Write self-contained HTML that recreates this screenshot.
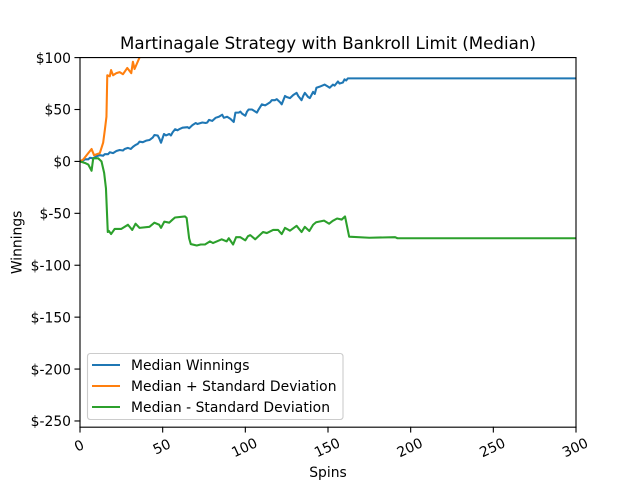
<!DOCTYPE html>
<html>
<head>
<meta charset="utf-8">
<style>
html,body{margin:0;padding:0;background:#fff}
svg{display:block}
text{font-family:"DejaVu Sans",sans-serif;font-size:13.89px;fill:#000}
</style>
</head>
<body>
<svg id="chart" width="640" height="480" viewBox="0 0 640 480" xmlns="http://www.w3.org/2000/svg">
<defs><clipPath id="plot-clip"><rect x="80" y="57.6" width="496" height="369.6"></rect></clipPath></defs>
<rect width="640" height="480" fill="#fff"></rect>
<text x="120" y="49" textLength="416" lengthAdjust="spacing" style="font-size:16.67px">Martinagale Strategy with Bankroll Limit (Median)</text>
<g id="series" clip-path="url(#plot-clip)"></g>
<g id="axes"></g>
<text x="328" y="477" text-anchor="middle">Spins</text>
<text x="0" y="0" text-anchor="middle" transform="translate(21.5,242.4) rotate(-90)">Winnings</text>
<g>
<rect x="87.5" y="353.5" width="255.5" height="66" rx="2.8" fill="#fff" fill-opacity="0.8" stroke="#cccccc" stroke-width="1.1"></rect>
<line x1="92" x2="120" y1="365" y2="365" stroke="#1f77b4" stroke-width="2.08"></line>
<text x="131" y="370">Median Winnings</text>
<line x1="92" x2="120" y1="386" y2="386" stroke="#ff7f0e" stroke-width="2.08"></line>
<text x="131" y="391" textLength="205.5" lengthAdjust="spacing">Median + Standard Deviation</text>
<line x1="92" x2="120" y1="407" y2="407" stroke="#2ca02c" stroke-width="2.08"></line>
<text x="131" y="412" textLength="199" lengthAdjust="spacing">Median - Standard Deviation</text>
</g>
</svg>
<script>
const xTicks = [0, 50, 100, 150, 200, 250, 300];
const yTicks = [100, 50, 0, -50, -100, -150, -200, -250];
const medianSpins = [0,2,3,5,6,8,10,12,14,15,17,18,20,22,24,26,27,29,30.7,32,33.5,35,36,38,40,42,44,45,47,48,49,50.8,52,54,55,56,57.5,59,60,62,65,66,68,70,71,73,74,76,77,78,80,82,84,86,87,89,91,93,94,96,97,98,100,101,102,104,105,107,108,110,112,113,115,116,118,119,121,122,124,125,127,129,131,132,134,135,136,138,139,141,142,143,145,148,150,151,153,154,156,157,159,160,161,162,170,200,250,300];
const medianValues = [0,1,2,2,3.5,3,5,6,5.5,7,7,8.8,8,10,11,10.5,12,13,12,14,15.8,17,19,18.5,20,20.6,23,25.4,25,22,18,26.4,25,26.4,25,28,31,30,31,32.5,33,32,35,37,36,37,37.5,37,37.5,40,39,42,43,45,42,43,41,38,47,47,48,46,44,48,50,50,49,47,50,55,54,55,57,59,59,60,57,55,63,62,61,64,66,63,59,63,66,62,61,67,65,71,72,74,72,71,74,73,77,75,76,79,78,80,80,80,80,80];
const plusSpins = [0,2,5,7,8.5,12,14,15,16,16.5,18,18.8,20,22,24,26,28.6,31,32,33,36,38,45,60,70,100,160,300];
const plusValues = [0,2,8,12,6,8,18,30,43,83,82,88,83,85,86,84,90,85,96,89,100,105,115,128,145,160,210,234];
const minusSpins = [0,3,5,7,8,11,13,14.6,15.7,16.8,17.5,18.8,21,25,29,31.6,33.6,36,42,45,47.9,49,51,54,56,57.5,63.5,64.5,66,67,70.6,73,75.6,78.6,80.4,85.7,88.7,90,92.6,94.4,97,100,101.6,103,106,110.7,113,116.8,119.8,122,124,127,131,134,136,138.7,141,142.8,147.6,150.7,152.8,155.5,158.3,160.3,162.8,175,190.6,192,300];
const minusValues = [0,-1.5,-3,-9,3,3,0,-11,-26,-68,-67,-70,-65,-65,-61,-66,-60,-64,-63,-59,-61,-64,-58,-59,-56,-54,-53,-54.5,-74,-79.6,-81,-80,-80,-77,-78.6,-75,-77,-74,-80,-73,-73,-76,-72,-71,-75,-68,-69,-66,-66,-70,-64,-66.7,-62,-68,-63,-67,-61,-58.6,-57,-60,-57.3,-55,-56,-53,-72.5,-73.5,-73,-74,-74];

const xScale = v => 80 + (v / 300) * 496;
const yScale = v => 57.6 + ((100 - v) / 356) * 369.6;
const svgNS = 'http://www.w3.org/2000/svg';
const seriesGroup = document.getElementById('series');
const axesGroup = document.getElementById('axes');

function drawSeries(spins, values, color, name) {
  const line = document.createElementNS(svgNS, 'polyline');
  line.setAttribute('points', spins.map((s, i) => xScale(s).toFixed(2) + ',' + yScale(values[i]).toFixed(2)).join(' '));
  line.setAttribute('fill', 'none');
  line.setAttribute('stroke', color);
  line.setAttribute('stroke-width', '2.08');
  line.setAttribute('stroke-linejoin', 'round');
  
  
  seriesGroup.appendChild(line);
}
drawSeries(medianSpins, medianValues, '#1f77b4', 'median-winnings-line');
drawSeries(plusSpins, plusValues, '#ff7f0e', 'median-plus-std-line');
drawSeries(minusSpins, minusValues, '#2ca02c', 'median-minus-std-line');

function addLine(x1, y1, x2, y2, name) {
  const l = document.createElementNS(svgNS, 'line');
  l.setAttribute('x1', x1);
  l.setAttribute('y1', y1);
  l.setAttribute('x2', x2);
  l.setAttribute('y2', y2);
  l.setAttribute('stroke', '#000');
  l.setAttribute('stroke-width', '1.11');
  l.setAttribute('stroke-linecap', 'square');
  
  
  axesGroup.appendChild(l);
}
addLine(80, 57.6, 576, 57.6, 'top-spine');
addLine(80, 427.2, 576, 427.2, 'bottom-spine');
addLine(80, 57.6, 80, 427.2, 'left-spine');
addLine(576, 57.6, 576, 427.2, 'right-spine');

xTicks.forEach(t => {
  const x = xScale(t);
  addLine(x, 427.2, x, 432, 'x-tick-mark');
  const label = document.createElementNS(svgNS, 'text');
  const w = String(t).length * 8.84;
  const cx = x - 0.6;
  const cy = 441.5 + w * 0.21 * 0.5 + 4;
  label.setAttribute('text-anchor', 'middle');
  label.setAttribute('dominant-baseline', 'central');
  label.setAttribute('transform', 'translate(' + cx + ',' + cy + ') rotate(-25)');
  
  
  label.textContent = String(t);
  axesGroup.appendChild(label);
});
yTicks.forEach(t => {
  const y = yScale(t);
  addLine(75, y, 80, y, 'y-tick-mark');
  const label = document.createElementNS(svgNS, 'text');
  label.setAttribute('x', 71);
  label.setAttribute('y', y + 5.2);
  label.setAttribute('text-anchor', 'end');
  
  
  label.textContent = '$' + t;
  axesGroup.appendChild(label);
});
</script>
</body>
</html>
